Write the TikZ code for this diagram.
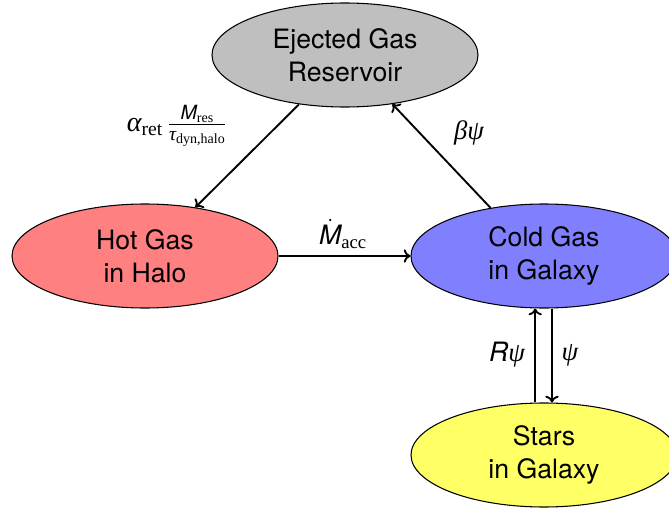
\documentclass[tikz,border=0pt]{standalone}
\usepackage{amsmath}
\usepackage[no-math]{fontspec}
\setmainfont{TeX Gyre Heros}
\newfontfamily\grk{Liberation Serif}
\newcommand{\tmr}[1]{\text{\grk #1}}
\newcommand{\tmi}[1]{\text{\grk\itshape #1}}
\newcommand{\sfi}[1]{\text{\itshape #1}}
\usetikzlibrary{shapes.geometric,arrows.meta}
\definecolor{ejgray}{RGB}{191,191,191}
\definecolor{hotred}{RGB}{255,128,128}
\definecolor{coldblue}{RGB}{128,128,255}
\definecolor{staryel}{RGB}{255,255,102}
\begin{document}
\begin{tikzpicture}[x=0.75pt,y=-0.75pt,
  res/.style={ellipse,draw=black,line width=0.8pt,inner sep=0pt,align=center,
    minimum width=199.5pt,minimum height=78pt,
    font=\fontsize{20}{25}\selectfont},
  flow/.style={line width=1.4pt,-{To[length=5pt,width=10pt]}},
  lbl/.style={font=\fontsize{20}{24}\selectfont},
  lbls/.style={font=\fontsize{21}{25}\selectfont}]
\useasboundingbox (0,0) rectangle (669,514);
\node[res,fill=ejgray] (ej) at (345,55) {Ejected Gas\\Reservoir};
\node[res,fill=hotred] (hot) at (145,256) {Hot Gas\\in Halo};
\node[res,fill=coldblue] (cold) at (544,256) {Cold Gas\\in Galaxy};
\node[res,fill=staryel] (stars) at (544,455) {Stars\\in Galaxy};
\draw[flow] (ej.227) -- (hot.44);
\draw[flow] (hot.east) -- (cold.west);
\draw[flow] (cold.138) -- (ej.-46);
\draw[flow] ([xshift=-6.6pt]stars.north) -- ([xshift=-6.6pt]cold.south);
\draw[flow] ([xshift=6pt]cold.south) -- ([xshift=6pt]stars.north);
\node[lbls] (la) at (177,126) {$\tmi{α}_{\tmr{ret}}\,\frac{\sfi{M}_{\tmr{res}}}{\tmi{τ}_{\tmr{dyn,halo}}}$};
\node[lbl] (lm) at (343,234) {$\dot{\sfi{M}}_{\tmr{acc}}$};
\node[lbl] (lb) at (469,133) {$\tmi{β}\tmi{ψ}$};
\node[lbl] (lr) at (507,355) {$\sfi{R}\tmi{ψ}$};
\node[lbl] (lp) at (570,355) {$\tmi{ψ}$};
\end{tikzpicture}
\end{document}
